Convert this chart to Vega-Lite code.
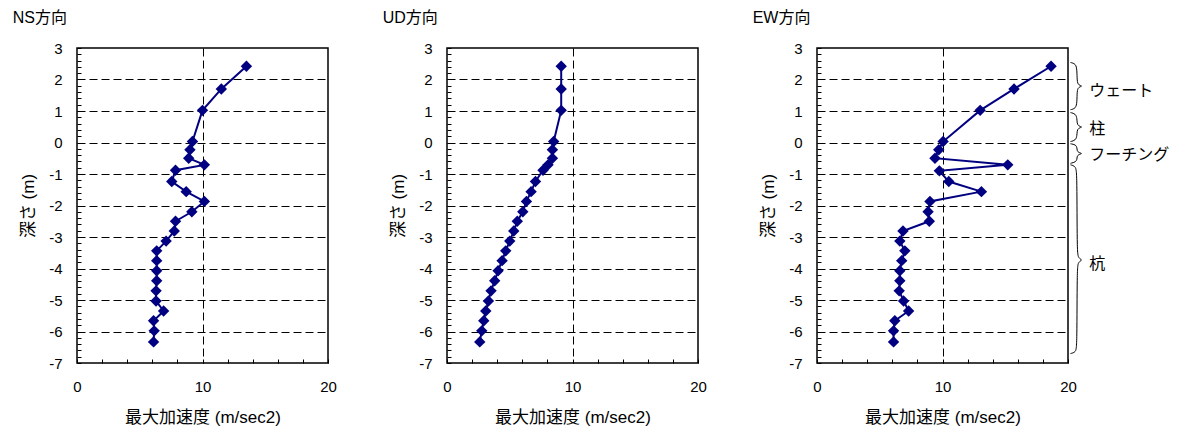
{
  "$schema": "https://vega.github.io/schema/vega-lite/v6.json",
  "padding": {"left": 11, "top": 9, "right": 5, "bottom": 3},
  "background": "white",
  "datasets": {
    "ns": [
      {"depth": 2.42, "acc": 13.5}, {"depth": 1.7, "acc": 11.5}, {"depth": 1.02, "acc": 10.0},
      {"depth": 0.03, "acc": 9.2}, {"depth": -0.23, "acc": 9.0}, {"depth": -0.5, "acc": 8.9},
      {"depth": -0.71, "acc": 10.15}, {"depth": -0.88, "acc": 7.85}, {"depth": -1.24, "acc": 7.55},
      {"depth": -1.56, "acc": 8.7}, {"depth": -1.87, "acc": 10.15}, {"depth": -2.2, "acc": 9.15},
      {"depth": -2.5, "acc": 7.85}, {"depth": -2.81, "acc": 7.75}, {"depth": -3.13, "acc": 7.1},
      {"depth": -3.44, "acc": 6.35}, {"depth": -3.75, "acc": 6.35}, {"depth": -4.07, "acc": 6.35},
      {"depth": -4.39, "acc": 6.35}, {"depth": -4.71, "acc": 6.3}, {"depth": -5.03, "acc": 6.3},
      {"depth": -5.35, "acc": 6.9}, {"depth": -5.66, "acc": 6.1}, {"depth": -5.98, "acc": 6.15},
      {"depth": -6.33, "acc": 6.1}
    ],
    "ud": [
      {"depth": 2.42, "acc": 9.1}, {"depth": 1.7, "acc": 9.1}, {"depth": 1.02, "acc": 9.1},
      {"depth": 0.03, "acc": 8.5}, {"depth": -0.23, "acc": 8.4}, {"depth": -0.5, "acc": 8.4},
      {"depth": -0.71, "acc": 8.05}, {"depth": -0.88, "acc": 7.65}, {"depth": -1.24, "acc": 7.05},
      {"depth": -1.56, "acc": 6.7}, {"depth": -1.87, "acc": 6.33}, {"depth": -2.2, "acc": 6.04},
      {"depth": -2.5, "acc": 5.6}, {"depth": -2.81, "acc": 5.32}, {"depth": -3.13, "acc": 5.0},
      {"depth": -3.44, "acc": 4.68}, {"depth": -3.75, "acc": 4.39}, {"depth": -4.07, "acc": 4.07},
      {"depth": -4.39, "acc": 3.8}, {"depth": -4.71, "acc": 3.51}, {"depth": -5.03, "acc": 3.3},
      {"depth": -5.35, "acc": 3.09}, {"depth": -5.66, "acc": 2.93}, {"depth": -5.98, "acc": 2.77},
      {"depth": -6.33, "acc": 2.61}
    ],
    "ew": [
      {"depth": 2.42, "acc": 18.65}, {"depth": 1.7, "acc": 15.7}, {"depth": 1.02, "acc": 13.0},
      {"depth": 0.03, "acc": 10.05}, {"depth": -0.23, "acc": 9.7}, {"depth": -0.5, "acc": 9.4},
      {"depth": -0.71, "acc": 15.2}, {"depth": -0.9, "acc": 9.75}, {"depth": -1.24, "acc": 10.5},
      {"depth": -1.56, "acc": 13.1}, {"depth": -1.87, "acc": 9.0}, {"depth": -2.2, "acc": 8.85},
      {"depth": -2.5, "acc": 8.95}, {"depth": -2.81, "acc": 6.85}, {"depth": -3.13, "acc": 6.6},
      {"depth": -3.44, "acc": 7.0}, {"depth": -3.75, "acc": 6.75}, {"depth": -4.07, "acc": 6.6},
      {"depth": -4.39, "acc": 6.6}, {"depth": -4.71, "acc": 6.55}, {"depth": -5.03, "acc": 6.9},
      {"depth": -5.35, "acc": 7.3}, {"depth": -5.66, "acc": 6.2}, {"depth": -5.98, "acc": 6.1},
      {"depth": -6.33, "acc": 6.1}
    ],
    "braces": [
      {"g": "w", "k": 0, "acc": 20.2, "depth": 2.54}, {"g": "w", "k": 1, "acc": 20.62, "depth": 2.5}, {"g": "w", "k": 2, "acc": 20.72, "depth": 2.3},
      {"g": "w", "k": 3, "acc": 20.72, "depth": 1.95}, {"g": "w", "k": 4, "acc": 20.82, "depth": 1.82}, {"g": "w", "k": 5, "acc": 21.2, "depth": 1.79},
      {"g": "w", "k": 6, "acc": 20.82, "depth": 1.76}, {"g": "w", "k": 7, "acc": 20.72, "depth": 1.63}, {"g": "w", "k": 8, "acc": 20.72, "depth": 1.28},
      {"g": "w", "k": 9, "acc": 20.62, "depth": 1.08}, {"g": "w", "k": 10, "acc": 20.2, "depth": 1.04},
      {"g": "c", "k": 0, "acc": 20.2, "depth": 0.95}, {"g": "c", "k": 1, "acc": 20.62, "depth": 0.91}, {"g": "c", "k": 2, "acc": 20.72, "depth": 0.75},
      {"g": "c", "k": 3, "acc": 20.72, "depth": 0.62}, {"g": "c", "k": 4, "acc": 20.82, "depth": 0.52}, {"g": "c", "k": 5, "acc": 21.2, "depth": 0.49},
      {"g": "c", "k": 6, "acc": 20.82, "depth": 0.46}, {"g": "c", "k": 7, "acc": 20.72, "depth": 0.36}, {"g": "c", "k": 8, "acc": 20.72, "depth": 0.23},
      {"g": "c", "k": 9, "acc": 20.62, "depth": 0.07}, {"g": "c", "k": 10, "acc": 20.2, "depth": 0.03},
      {"g": "f", "k": 0, "acc": 20.2, "depth": -0.04}, {"g": "f", "k": 1, "acc": 20.62, "depth": -0.07}, {"g": "f", "k": 2, "acc": 20.72, "depth": -0.17},
      {"g": "f", "k": 3, "acc": 20.72, "depth": -0.25}, {"g": "f", "k": 4, "acc": 20.82, "depth": -0.32}, {"g": "f", "k": 5, "acc": 21.2, "depth": -0.35},
      {"g": "f", "k": 6, "acc": 20.82, "depth": -0.38}, {"g": "f", "k": 7, "acc": 20.72, "depth": -0.45}, {"g": "f", "k": 8, "acc": 20.72, "depth": -0.53},
      {"g": "f", "k": 9, "acc": 20.62, "depth": -0.62}, {"g": "f", "k": 10, "acc": 20.2, "depth": -0.66},
      {"g": "p", "k": 0, "acc": 20.2, "depth": -0.71}, {"g": "p", "k": 1, "acc": 20.62, "depth": -0.75}, {"g": "p", "k": 2, "acc": 20.72, "depth": -1.0},
      {"g": "p", "k": 3, "acc": 20.72, "depth": -3.45}, {"g": "p", "k": 4, "acc": 20.82, "depth": -3.68}, {"g": "p", "k": 5, "acc": 21.2, "depth": -3.73},
      {"g": "p", "k": 6, "acc": 20.82, "depth": -3.78}, {"g": "p", "k": 7, "acc": 20.72, "depth": -4.0}, {"g": "p", "k": 8, "acc": 20.72, "depth": -6.45},
      {"g": "p", "k": 9, "acc": 20.62, "depth": -6.66}, {"g": "p", "k": 10, "acc": 20.2, "depth": -6.7}
    ],
    "labels": [
      {"t": "ウェート", "acc": 21.7, "depth": 1.62},
      {"t": "柱", "acc": 21.7, "depth": 0.42},
      {"t": "フーチング", "acc": 21.7, "depth": -0.39},
      {"t": "杭", "acc": 21.7, "depth": -3.86}
    ]
  },
  "config": {
    "font": "Liberation Sans, Arial, Noto Sans CJK JP",
    "view": {"stroke": "black", "strokeWidth": 1.5},
    "axis": {
      "domain": false,
      "tickColor": "black",
      "tickSize": -4,
      "tickWidth": 1,
      "labelFontSize": 15,
      "labelColor": "black",
      "titleFontSize": 17,
      "titleFontWeight": "normal",
      "titleColor": "black",
      "gridColor": "black",
      "gridDash": [8, 4],
      "gridWidth": 1,
      "labelOverlap": false,
      "labelFlush": false,
      "labelBound": false
    },
    "axisX": {"labelPadding": 20, "titlePadding": 15},
    "axisY": {"labelPadding": 19, "titlePadding": 11},
    "title": {"fontSize": 16, "fontWeight": "normal", "color": "black", "anchor": "start", "frame": "bounds", "offset": 15, "dx": -7}
  },
  "hconcat": [
    {
      "title": "NS方向",
      "width": 251, "height": 315,
      "data": {"name": "ns"},
      "encoding": {
        "x": {"field": "acc", "type": "quantitative", "title": "最大加速度 (m/sec2)",
          "scale": {"domain": [0, 20], "nice": false, "zero": false},
          "axis": {"values": [0,2,4,6,8,10,12,14,16,18,20], "labelExpr": "datum.value % 10 === 0 ? '' + datum.value : ''",
            "gridOpacity": {"condition": {"test": "datum.value === 10", "value": 1}, "value": 0}}},
        "y": {"field": "depth", "type": "quantitative", "title": "深さ (m)",
          "scale": {"domain": [-7, 3], "nice": false, "zero": false},
          "axis": {"values": [-7,-6.8,-6.6,-6.4,-6.2,-6,-5.8,-5.6,-5.4,-5.2,-5,-4.8,-4.6,-4.4,-4.2,-4,-3.8,-3.6,-3.4,-3.2,-3,-2.8,-2.6,-2.4,-2.2,-2,-1.8,-1.6,-1.4,-1.2,-1,-0.8,-0.6,-0.4,-0.2,0,0.2,0.4,0.6,0.8,1,1.2,1.4,1.6,1.8,2,2.2,2.4,2.6,2.8,3],
            "labelExpr": "datum.value % 1 === 0 ? '' + datum.value : ''",
            "gridOpacity": {"condition": {"test": "datum.value % 1 === 0 && datum.value > -7 && datum.value < 3", "value": 1}, "value": 0}}},
        "order": {"field": "depth", "sort": "descending"}
      },
      "layer": [
        {"mark": {"type": "line", "color": "#000080", "strokeWidth": 2}},
        {"mark": {"type": "point", "shape": "diamond", "filled": true, "opacity": 1, "color": "#000080", "size": 130}}
      ]
    },
    {
      "title": "UD方向",
      "width": 251, "height": 315,
      "data": {"name": "ud"},
      "encoding": {
        "x": {"field": "acc", "type": "quantitative", "title": "最大加速度 (m/sec2)",
          "scale": {"domain": [0, 20], "nice": false, "zero": false},
          "axis": {"values": [0,2,4,6,8,10,12,14,16,18,20], "labelExpr": "datum.value % 10 === 0 ? '' + datum.value : ''",
            "gridOpacity": {"condition": {"test": "datum.value === 10", "value": 1}, "value": 0}}},
        "y": {"field": "depth", "type": "quantitative", "title": "深さ (m)",
          "scale": {"domain": [-7, 3], "nice": false, "zero": false},
          "axis": {"values": [-7,-6.8,-6.6,-6.4,-6.2,-6,-5.8,-5.6,-5.4,-5.2,-5,-4.8,-4.6,-4.4,-4.2,-4,-3.8,-3.6,-3.4,-3.2,-3,-2.8,-2.6,-2.4,-2.2,-2,-1.8,-1.6,-1.4,-1.2,-1,-0.8,-0.6,-0.4,-0.2,0,0.2,0.4,0.6,0.8,1,1.2,1.4,1.6,1.8,2,2.2,2.4,2.6,2.8,3],
            "labelExpr": "datum.value % 1 === 0 ? '' + datum.value : ''",
            "gridOpacity": {"condition": {"test": "datum.value % 1 === 0 && datum.value > -7 && datum.value < 3", "value": 1}, "value": 0}}},
        "order": {"field": "depth", "sort": "descending"}
      },
      "layer": [
        {"mark": {"type": "line", "color": "#000080", "strokeWidth": 2}},
        {"mark": {"type": "point", "shape": "diamond", "filled": true, "opacity": 1, "color": "#000080", "size": 130}}
      ]
    },
    {
      "title": "EW方向",
      "width": 251, "height": 315,
      "encoding": {
        "x": {"field": "acc", "type": "quantitative", "title": "最大加速度 (m/sec2)",
          "scale": {"domain": [0, 20], "nice": false, "zero": false},
          "axis": {"values": [0,2,4,6,8,10,12,14,16,18,20], "labelExpr": "datum.value % 10 === 0 ? '' + datum.value : ''",
            "gridOpacity": {"condition": {"test": "datum.value === 10", "value": 1}, "value": 0}}},
        "y": {"field": "depth", "type": "quantitative", "title": "深さ (m)",
          "scale": {"domain": [-7, 3], "nice": false, "zero": false},
          "axis": {"values": [-7,-6.8,-6.6,-6.4,-6.2,-6,-5.8,-5.6,-5.4,-5.2,-5,-4.8,-4.6,-4.4,-4.2,-4,-3.8,-3.6,-3.4,-3.2,-3,-2.8,-2.6,-2.4,-2.2,-2,-1.8,-1.6,-1.4,-1.2,-1,-0.8,-0.6,-0.4,-0.2,0,0.2,0.4,0.6,0.8,1,1.2,1.4,1.6,1.8,2,2.2,2.4,2.6,2.8,3],
            "labelExpr": "datum.value % 1 === 0 ? '' + datum.value : ''",
            "gridOpacity": {"condition": {"test": "datum.value % 1 === 0 && datum.value > -7 && datum.value < 3", "value": 1}, "value": 0}}}
      },
      "layer": [
        {
          "data": {"name": "ew"},
          "mark": {"type": "line", "color": "#000080", "strokeWidth": 2},
          "encoding": {"order": {"field": "depth", "sort": "descending"}}
        },
        {
          "data": {"name": "ew"},
          "mark": {"type": "point", "shape": "diamond", "filled": true, "opacity": 1, "color": "#000080", "size": 130}
        },
        {
          "data": {"name": "braces"},
          "mark": {"type": "line", "color": "black", "strokeWidth": 1, "interpolate": "basis", "clip": false},
          "encoding": {
            "detail": {"field": "g"},
            "order": {"field": "k", "type": "quantitative"}
          }
        },
        {
          "data": {"name": "labels"},
          "mark": {"type": "text", "align": "left", "baseline": "middle", "fontSize": 16, "color": "black", "clip": false},
          "encoding": {
            "text": {"field": "t"}
          }
        }
      ]
    }
  ],
  "spacing": 43
}
